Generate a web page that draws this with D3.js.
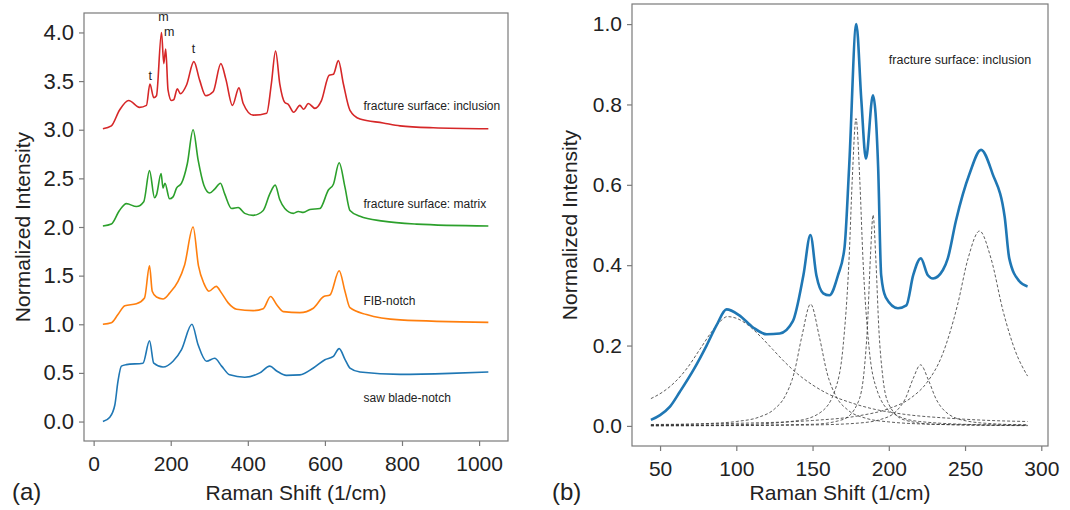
<!DOCTYPE html>
<html>
<head>
<meta charset="utf-8">
<script src="https://cdn.jsdelivr.net/npm/d3@7"></script>
<style>
  body { margin: 0; background: #fff; }
  text { font-family: "Liberation Sans", Arial, sans-serif; fill: #222; }
</style>
</head>
<body>
<svg id="chart" width="1070" height="510"></svg>
<script>
// ---- panel (a): spectra, [Raman shift, normalized intensity]
var inclusion = [[24,3.01],[46,3.04],[67,3.2],[91,3.3],[119,3.23],[137,3.25],[146,3.47],[156,3.33],[163,3.35],
  [176,4.0],[182,3.68],[187,3.83],[193,3.41],[202,3.3],[208,3.31],[217,3.42],[225,3.37],[241,3.46],[260,3.7],
  [275,3.51],[291,3.35],[310,3.39],[330,3.68],[343,3.52],[360,3.25],[377,3.43],[388,3.27],[414,3.15],[449,3.17],
  [461,3.47],[472,3.81],[483,3.47],[496,3.28],[505,3.26],[519,3.18],[535,3.25],[545,3.21],[557,3.27],[574,3.22],
  [591,3.3],[611,3.56],[622,3.57],[635,3.71],[648,3.47],[665,3.2],[691,3.11],[751,3.07],[795,3.04],[881,3.02],[1024,3.01]];
var matrix = [[24,2.01],[46,2.03],[67,2.17],[85,2.24],[111,2.21],[130,2.26],[145,2.58],[158,2.3],[163,2.33],
  [175,2.55],[180,2.4],[185,2.45],[197,2.29],[206,2.31],[215,2.4],[228,2.45],[243,2.65],[258,3.0],[271,2.69],
  [286,2.43],[301,2.35],[314,2.39],[329,2.45],[340,2.34],[358,2.19],[375,2.2],[392,2.14],[414,2.12],[440,2.17],
  [457,2.34],[471,2.43],[483,2.28],[496,2.19],[518,2.14],[531,2.16],[544,2.15],[561,2.18],[587,2.19],[609,2.38],
  [622,2.44],[637,2.66],[652,2.41],[665,2.17],[691,2.11],[751,2.06],[838,2.03],[1024,2.01]];
var fibNotch = [[24,1.0],[46,1.015],[63,1.1],[81,1.19],[111,1.21],[132,1.27],[145,1.6],[152,1.34],[163,1.28],
  [180,1.26],[197,1.32],[219,1.44],[236,1.61],[258,2.0],[272,1.6],[286,1.42],[299,1.34],[318,1.39],[332,1.32],
  [349,1.22],[371,1.155],[414,1.14],[440,1.16],[459,1.285],[475,1.2],[492,1.13],[535,1.12],[570,1.165],
  [597,1.285],[613,1.3],[637,1.55],[652,1.34],[665,1.17],[708,1.1],[795,1.045],[1024,1.02]];
var sawNotch = [[24,0.0],[42,0.045],[55,0.17],[63,0.41],[72,0.57],[85,0.585],[128,0.6],[145,0.83],[156,0.6],
  [180,0.56],[206,0.62],[228,0.74],[255,1.0],[271,0.79],[293,0.62],[314,0.65],[332,0.57],[353,0.48],[392,0.455],
  [431,0.5],[457,0.57],[475,0.52],[500,0.475],[535,0.48],[570,0.55],[600,0.635],[622,0.67],[637,0.75],[652,0.64],
  [665,0.55],[691,0.51],[795,0.485],[925,0.495],[1024,0.51]];

var seriesA = [sawNotch, fibNotch, matrix, inclusion];
var namesA = ["saw blade-notch", "FIB-notch", "fracture surface: matrix", "fracture surface: inclusion"];
var offsetsA = [0, 1, 2, 3];
var colorsA = ["#1f77b4", "#ff7f0e", "#2ca02c", "#d62728"];
var peakText = ["t", "m", "m", "t"];
var peakX = [147, 181, 196, 259];
var peakY = [3.51, 4.12, 3.96, 3.79];
var xTicksA = [0, 200, 400, 600, 800, 1000];
var yTicksA = [0, 0.5, 1, 1.5, 2, 2.5, 3, 3.5, 4];

// ---- panel (b): fit of the inclusion spectrum
var measured = [[44,0.015],[50,0.027],[56.5,0.048],[63,0.085],[72,0.14],[80.5,0.2],[87,0.25],[93.6,0.29],
  [102,0.275],[111,0.245],[120,0.228],[128.5,0.23],[137,0.26],[144,0.375],[148.6,0.475],[152.5,0.375],
  [157,0.33],[161,0.325],[166.7,0.375],[171,0.445],[174,0.645],[178.7,1.0],[182,0.81],[185,0.665],[189.6,0.823],
  [193,0.645],[195,0.375],[198,0.32],[206,0.293],[211.5,0.3],[216,0.375],[221,0.417],[225.6,0.375],[229,0.367],
  [235.5,0.388],[238.7,0.417],[244,0.51],[253,0.628],[260.5,0.687],[268,0.628],[276,0.52],[279,0.417],
  [285.6,0.36],[291,0.347]];
var band1 = [[44,0.068],[52,0.085],[60,0.11],[68,0.145],[76,0.19],[84,0.235],[90,0.262],[94,0.272],[100,0.268],
  [108,0.25],[116,0.222],[124,0.19],[132,0.158],[140,0.13],[150,0.102],[160,0.08],[175,0.058],[190,0.042],
  [210,0.029],[240,0.019],[270,0.013],[291,0.011]];
var band2 = [[44,0.0025],[80,0.0057],[100,0.011],[115,0.022],[125,0.042],[132,0.074],[138,0.133],[143,0.223],
  [148.7,0.303],[154.5,0.221],[159.5,0.132],[165.5,0.073],[173,0.04],[185,0.019],[200,0.01],[230,0.004],[291,0.0013]];
var band3 = [[44,0.001],[100,0.003],[140,0.013],[155,0.033],[165,0.092],[170,0.197],[174,0.42],[176,0.61],
  [178.5,0.765],[181,0.61],[183,0.42],[187,0.197],[192,0.092],[202,0.033],[220,0.011],[260,0.003],[291,0.002]];
var band4 = [[44,0.0003],[150,0.004],[170,0.016],[180,0.06],[184,0.144],[186,0.248],[188,0.425],[189.7,0.525],
  [191.5,0.415],[193.5,0.24],[196,0.124],[200,0.054],[210,0.015],[230,0.004],[291,0.0006]];
var band5 = [[44,0.0004],[100,0.0008],[150,0.0024],[180,0.007],[195,0.0165],[205,0.037],[211,0.069],[216,0.118],
  [220.8,0.152],[226,0.114],[231,0.067],[237,0.036],[250,0.013],[270,0.005],[291,0.0025]];
var band6 = [[44,0.0035],[100,0.0064],[150,0.0135],[180,0.025],[200,0.043],[215,0.071],[225,0.108],[235,0.176],
  [245,0.3],[252,0.417],[259.5,0.485],[267,0.417],[275,0.285],[283,0.186],[291,0.124]];
var bandsB = [band1, band2, band3, band4, band5, band6];
var xTicksB = [50, 100, 150, 200, 250, 300];
var yTicksB = [0, 0.2, 0.4, 0.6, 0.8, 1.0];

var svg = d3.select("#chart");

function frame(x, y) {
    svg.append("rect")
        .attr("x", x.range()[0]).attr("y", y.range()[1])
        .attr("width", x.range()[1] - x.range()[0])
        .attr("height", y.range()[0] - y.range()[1])
        .attr("fill", "none").attr("stroke", "#7a7a7a").attr("stroke-width", 1.2);
}

function axes(x, y, xt, yt, ysize) {
    var gx = svg.append("g")
        .attr("transform", "translate(0," + y.range()[0] + ")")
        .call(d3.axisBottom(x).tickValues(xt).tickSize(5).tickPadding(10).tickFormat(d3.format("d")));
    var gy = svg.append("g")
        .attr("transform", "translate(" + x.range()[0] + ",0)")
        .call(d3.axisLeft(y).tickValues(yt).tickSize(5).tickPadding(5).tickFormat(d3.format(".1f")));
    [gx, gy].forEach(function (g) {
        g.select(".domain").remove();
        g.selectAll("line").attr("stroke", "#7a7a7a").attr("stroke-width", 1.2);
        g.selectAll("text").attr("fill", "#222");
    });
    gx.selectAll("text").style("font-size", "21px");
    gy.selectAll("text").style("font-size", ysize + "px");
}

// ---------- panel (a)
var xA = d3.scaleLinear().domain([-25, 1075]).range([84, 508]);
var yA = d3.scaleLinear().domain([-0.2, 4.2]).range([441, 13]);
frame(xA, yA);
axes(xA, yA, xTicksA, yTicksA, 22);

var lineA = d3.line()
    .x(function (d) { return xA(d[0]) })
    .y(function (d) { return yA(d[1]) })
    .curve(d3.curveMonotoneX);

seriesA.forEach(function (s, i) {
    svg.append("path")
        .datum(s)
        .attr("fill", "none")
        .attr("stroke", colorsA[i])
        .attr("stroke-width", 1.6)
        .attr("d", lineA);
    svg.append("text")
        .attr("x", xA(700))
        .attr("y", yA(offsetsA[i] + 0.2))
        .style("font-size", "12px")
        .attr("fill", "#333")
        .text(namesA[i]);
});

peakText.forEach(function (t, i) {
    svg.append("text")
        .attr("x", xA(peakX[i]))
        .attr("y", yA(peakY[i]))
        .attr("text-anchor", "middle")
        .style("font-size", "12.5px")
        .attr("fill", "#333")
        .text(t);
});

svg.append("text").attr("x", 296).attr("y", 500).attr("text-anchor", "middle")
    .style("font-size", "21px").text("Raman Shift (1/cm)");
svg.append("text").attr("transform", "translate(30,227) rotate(-90)").attr("text-anchor", "middle")
    .style("font-size", "21px").text("Normalized Intensity");
svg.append("text").attr("x", 12).attr("y", 500).style("font-size", "24px").text("(a)");

// ---------- panel (b)
var xB = d3.scaleLinear().domain([31.6, 304.4]).range([632, 1048]);
var yB = d3.scaleLinear().domain([-0.05, 1.05]).range([446, 4]);
frame(xB, yB);
axes(xB, yB, xTicksB, yTicksB, 21);

var lineB = d3.line()
    .x(function (d) { return xB(d[0]) })
    .y(function (d) { return yB(d[1]) })
    .curve(d3.curveMonotoneX);

bandsB.forEach(function (b) {
    svg.append("path")
        .datum(b)
        .attr("fill", "none")
        .attr("stroke", "#333")
        .attr("stroke-width", 0.8)
        .attr("stroke-dasharray", "3,2")
        .attr("d", lineB);
});

svg.append("path")
    .datum(measured)
    .attr("fill", "none")
    .attr("stroke", "#1f77b4")
    .attr("stroke-width", 2.6)
    .attr("d", lineB);

svg.append("text")
    .attr("x", xB(200)).attr("y", yB(0.9))
    .style("font-size", "12.5px").attr("fill", "#333")
    .text("fracture surface: inclusion");

svg.append("text").attr("x", 840).attr("y", 500).attr("text-anchor", "middle")
    .style("font-size", "21px").text("Raman Shift (1/cm)");
svg.append("text").attr("transform", "translate(577,225) rotate(-90)").attr("text-anchor", "middle")
    .style("font-size", "21px").text("Normalized Intensity");
svg.append("text").attr("x", 552).attr("y", 500).style("font-size", "24px").text("(b)");
</script>
</body>
</html>
